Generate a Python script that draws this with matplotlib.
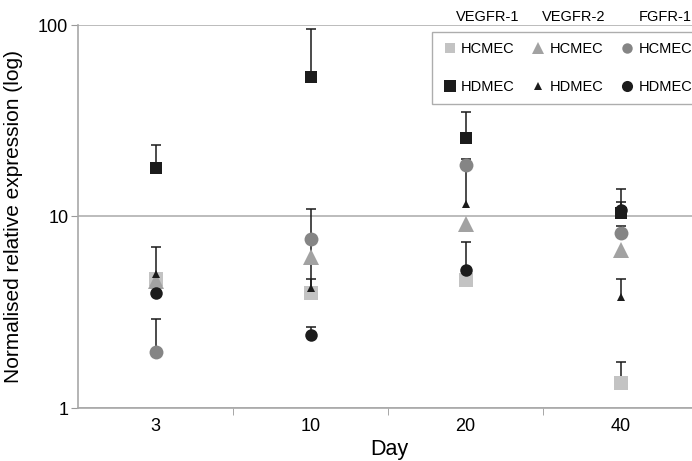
import numpy as np
import matplotlib.pyplot as plt
from matplotlib.lines import Line2D

plt.rcParams['font.family'] = ['Liberation Sans', 'DejaVu Sans']

days = ['3', '10', '20', '40']

# mean values and upper error-bar ends
vegfr1_hcmec = [4.7, 4.0, 4.66, 1.35]
vegfr1_hcmec_top = [4.7, 4.72, 4.66, 1.74]
vegfr1_hdmec = [17.9, 53.5, 25.7, 10.4]
vegfr1_hdmec_top = [23.6, 95.0, 35.1, 13.9]
vegfr2_hcmec = [4.6, 6.15, 9.14, 6.68]
vegfr2_hcmec_top = [4.6, 6.15, 9.14, 6.68]
vegfr2_hdmec = [5.0, 4.23, 11.6, 3.8]
vegfr2_hdmec_top = [6.93, 10.9, 20.0, 4.72]
fgfr1_hcmec = [1.96, 7.63, 18.6, 8.2]
fgfr1_hcmec_top = [2.92, 7.63, 18.6, 8.9]
fgfr1_hdmec = [3.99, 2.40, 5.26, 10.8]
fgfr1_hdmec_top = [3.99, 2.65, 7.36, 11.9]

c_light = '#c3c3c3'
c_tri = '#a2a2a2'
c_circ = '#858585'
c_dark = '#1c1c1c'

fig = plt.figure(figsize=(6.92, 4.61), dpi=100)
ax = fig.add_axes([78 / 692, 1 - 408 / 461, 1 - 78 / 692, (408 - 25) / 461])
x = np.arange(len(days))

# (values, bar tops, marker, colour, size, legend size)
series = [
    (vegfr1_hcmec, vegfr1_hcmec_top, 's', c_light, 10, 7.5),
    (vegfr1_hdmec, vegfr1_hdmec_top, 's', c_dark, 8.7, 8),
    (vegfr2_hcmec, vegfr2_hcmec_top, '^', c_tri, 11, 8.5),
    (vegfr2_hdmec, vegfr2_hdmec_top, '^', c_dark, 6, 6),
    (fgfr1_hcmec, fgfr1_hcmec_top, 'o', c_circ, 10, 7.5),
    (fgfr1_hdmec, fgfr1_hdmec_top, 'o', c_dark, 9, 8),
]

handles = []
for vals, tops, mk, col, ms, lms in series:
    vals = np.array(vals)
    tops = np.array(tops)
    has_bar = tops > vals
    ax.vlines(x[has_bar], vals[has_bar], tops[has_bar], color='#1a1a1a',
              linewidth=1.1, zorder=2)
    ax.plot(x[has_bar], tops[has_bar], linestyle='none', marker='_',
            markersize=6.5, markeredgewidth=1.1, color='#1a1a1a', zorder=2)
    ax.plot(x, vals, linestyle='none', marker=mk, color=col, markersize=ms,
            markeredgewidth=0, zorder=3)
    handles.append(Line2D([], [], linestyle='none', marker=mk, color=col,
                          markersize=lms, markeredgewidth=0))

ax.set_yscale('log')
ax.set_ylim(1, 100)
ax.set_xlim(-0.5, -0.5 + 614 / 155)
ax.set_yticks([1, 10, 100])
ax.set_yticklabels(['1', '10', '100'])
ax.yaxis.set_minor_locator(plt.NullLocator())
ax.set_xticks(x)
ax.set_xticklabels(days)
ax.set_xticks([0.5, 1.5, 2.5], minor=True)
ax.tick_params(axis='x', which='major', length=0, labelsize=13, pad=7)
ax.tick_params(axis='x', which='minor', length=5, color='#999999')
ax.tick_params(axis='y', which='major', length=5, color='#999999', labelsize=13, pad=2)

ax.grid(axis='y', which='major', color='#b0b0b0', linewidth=1.2)
ax.set_axisbelow(True)
for s in ['top', 'right']:
    ax.spines[s].set_visible(False)
for s in ['left', 'bottom']:
    ax.spines[s].set_color('#a8a8a8')
    ax.spines[s].set_linewidth(1.2)

ax.set_xlabel('Day', fontsize=15.5)
ax.xaxis.set_label_coords((389 - 78) / 614, -0.08)
ax.set_ylabel('Normalised relative expression (log)', fontsize=15, labelpad=11)

leg = ax.legend(handles, ['HCMEC', 'HDMEC'] * 3, ncol=3, loc='upper left',
                bbox_to_anchor=((432 - 78) / 614, (408 - 32) / 383),
                borderaxespad=0, fontsize=10.5, frameon=True,
                fancybox=False, edgecolor='#999999', handletextpad=0.3,
                columnspacing=1.1, labelspacing=1.65, borderpad=0.7,
                handlelength=1.0)
leg.get_frame().set_linewidth(1.0)

for label, px in [('VEGFR-1', 488), ('VEGFR-2', 574), ('FGFR-1', 665)]:
    fig.text(px / 692, 1 - 17 / 461, label, fontsize=10.5, ha='center', va='center')

fig.savefig('out.png', dpi=100)
